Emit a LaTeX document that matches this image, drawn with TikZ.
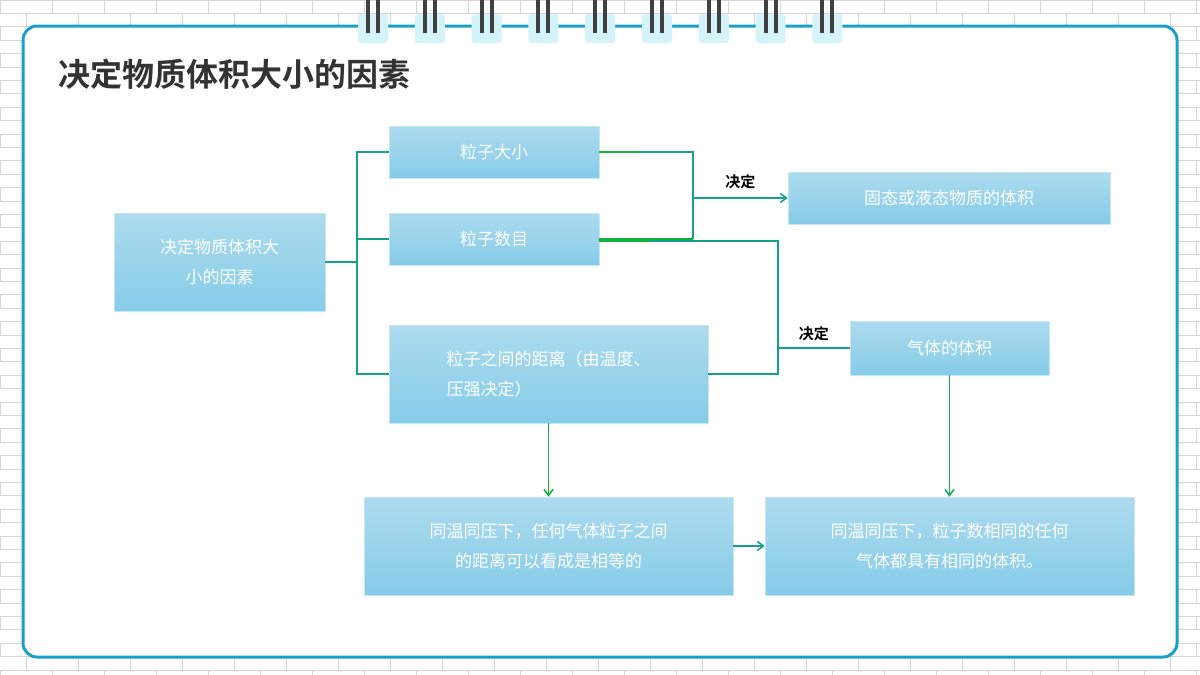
\documentclass[tikz,border=0pt]{standalone}
\usepackage{fontspec}
\setmainfont{Noto Sans CJK SC}
\newfontfamily\cjkb{Noto Sans CJK SC Bold}
\usetikzlibrary{arrows.meta}
\definecolor{brick}{HTML}{D6D6D6}
\definecolor{panel}{HTML}{1BA0C8}
\definecolor{teal}{HTML}{16A08E}
\definecolor{grn}{HTML}{14B43C}
\definecolor{boxtop}{HTML}{ACDBEE}
\definecolor{boxbot}{HTML}{86CCE8}
\definecolor{tab}{HTML}{D4F3FB}
\begin{document}
\begin{tikzpicture}[x=1pt,y=-1pt,
  box/.style={draw=boxtop!70!white,line width=0.6pt,top color=boxtop,bottom color=boxbot,
    text=white,font=\fontsize{17}{30}\selectfont,inner sep=0pt},
  ln/.style={teal,line width=1.6pt},
  gl/.style={grn,line width=2.4pt},
  arr/.style={ln,-{Straight Barb[length=6pt,width=9pt,line width=1.6pt]}},
  lab/.style={font=\cjkb\fontsize{15}{18}\selectfont,text=black}]
\useasboundingbox (0,0) rectangle (1200,675);
\fill[white] (0,0) rectangle (1200,675);
% bricks
\foreach \r in {0,...,50}{
  \pgfmathsetmacro\yy{\r*13.4}
  \draw[brick,line width=0.8pt] (0,\yy) -- (1200,\yy);
  \pgfmathsetmacro\off{mod(\r,2)*26}
  \foreach \c in {0,...,24}{
    \pgfmathsetmacro\xx{\c*52+\off}
    \draw[brick,line width=0.8pt] (\xx,\yy) -- (\xx,\yy+13.4);
  }
}
% panel
\draw[panel,line width=3pt,fill=white,rounded corners=14pt] (23,26) rectangle (1177,657);
% rings
\foreach \i in {0,...,8}{
  \pgfmathsetmacro\cx{373+56.8*\i}
  \fill[tab,rounded corners=3pt] (\cx-15,14) rectangle (\cx+15,43);
  \fill[black!75] (\cx-7,0) rectangle (\cx-3,33);
  \fill[black!75] (\cx+3,0) rectangle (\cx+7,33);
}
\node[anchor=west,font=\cjkb\fontsize{32}{36}\selectfont,text=black!80] (title) at (55,74) {决定物质体积大小的因素};
% boxes
\node[box,minimum width=211pt,minimum height=98pt,align=center] (main) at (219.5,262) {决定物质体积大\\小的因素};
\node[box,minimum width=210pt,minimum height=52pt] (size) at (494,152) {粒子大小};
\node[box,minimum width=210pt,minimum height=52pt] (num) at (494,239) {粒子数目};
\node[box,minimum width=319pt,minimum height=98pt,align=left] (dist) at (548.5,374) {粒子之间的距离（由温度、\\压强决定）};
\node[box,minimum width=322pt,minimum height=52pt] (solid) at (949,198) {固态或液态物质的体积};
\node[box,minimum width=199pt,minimum height=54pt] (gas) at (949.5,348) {气体的体积};
\node[box,minimum width=369pt,minimum height=98pt,align=center] (bl) at (548.5,546) {同温同压下，任何气体粒子之间\\的距离可以看成是相等的};
\node[box,minimum width=369pt,minimum height=98pt,align=center] (br) at (949.5,546) {同温同压下，粒子数相同的任何\\气体都具有相同的体积。};
% left bracket
\coordinate (j1) at (357,262);
\draw[ln] (main.east) -- (j1);
\draw[ln] (size.west) -| (357,374) -- (dist.west);
\draw[ln] (num.west) -- (357,239);
% top bracket
\draw[gl] (size.east) -- (640,152);
\draw[ln] (640,152) -- (693,152) -- (693,239);
\draw[gl] (num.east) -- (693,239);
\coordinate (j2) at (693,198);
\draw[arr] (j2) -- (solid.west) node[lab,midway,above=5pt] {决定};
% second bracket
\draw[ln] (640,241) -- (778,241) -- (778,374) -- (dist.east);
\draw[gl] (num.east) ++(0,2) -- (650,241);
\coordinate (j3) at (778,348);
\draw[ln] (j3) -- (gas.west) node[lab,midway,above=3pt] {决定};
% arrows
\draw[arr,grn] (dist.south) -- (bl.north);
\draw[arr,grn!70!teal] (gas.south) -- (br.north);
\draw[arr] (bl.east) -- (br.west);
\end{tikzpicture}
\end{document}
